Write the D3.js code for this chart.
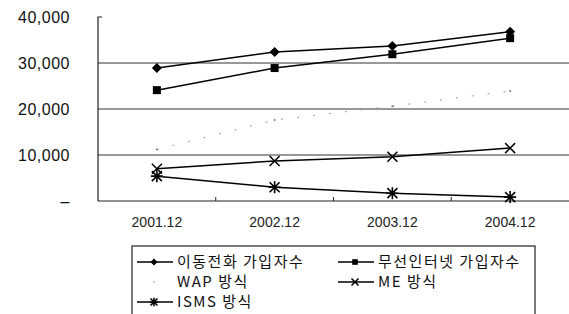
<!DOCTYPE html>
<meta charset="utf-8">
<script src="https://d3js.org/d3.v7.min.js"></script>
<style>
  body { margin: 0; background: #fff; }
  text { font-family: "Liberation Sans", Arial, sans-serif; fill: #111; }
  .kr { font-family: "Noto Sans CJK KR", "Liberation Sans", sans-serif; }
</style>
<div id="chart"></div>
<script>

// data
var categories = ["2001.12", "2002.12", "2003.12", "2004.12"];
var yTicks = [0, 10000, 20000, 30000, 40000];
var mobileSubs = [28900, 32400, 33700, 36800];   // 이동전화 가입자수
var wirelessSubs = [24100, 28900, 31900, 35400]; // 무선인터넷 가입자수
var wapValues = [11200, 17600, 20600, 23900];    // WAP 방식
var meValues = [7000, 8700, 9600, 11500];        // ME 방식
var ismsValues = [5400, 3000, 1700, 850];        // ISMS 방식

var series = [
  {name: "이동전화 가입자수", values: mobileSubs, marker: "diamond"},
  {name: "무선인터넷 가입자수", values: wirelessSubs, marker: "square"},
  {name: "WAP 방식", values: wapValues, marker: "dot"},
  {name: "ME 방식", values: meValues, marker: "cross"},
  {name: "ISMS 방식", values: ismsValues, marker: "star"}
];

var W = 569, H = 314;
var margin = {top: 17, right: 0, bottom: 113, left: 98};
var width = W - margin.left - margin.right,
    height = H - margin.top - margin.bottom;

var svg = d3.select("#chart").append("svg")
  .attr("width", W).attr("height", H);

var g = svg.append("g")
  .attr("transform", "translate(" + margin.left + "," + margin.top + ")");

var x = d3.scaleBand().domain(categories).range([0, width]);
var y = d3.scaleLinear().domain([0, 40000]).range([height, 0]);

// gridlines
g.selectAll(".grid")
  .data(yTicks.filter(function(d) { return d > 0 && d < 40000; }))
  .enter().append("line")
  .attr("x1", 0).attr("x2", width)
  .attr("y1", function(d) { return y(d); })
  .attr("y2", function(d) { return y(d); })
  .style("stroke", "#333").style("stroke-width", 1.2);

// y axis
var yAxis = g.append("g")
  .call(d3.axisLeft(y).tickValues(yTicks).tickSize(0).tickPadding(28)
    .tickFormat(function(d) { return d === 0 ? "\u2013" : d3.format(",")(d); }));
yAxis.select(".domain").style("stroke", "#222").style("stroke-width", 1.2)
  .attr("d", "M4," + y(40000) + "H0V" + y(0));
yAxis.selectAll("text").style("font-size", "16px").style("fill", "#111")
  .style("letter-spacing", "0.5px");

// x axis
var xAxis = g.append("g")
  .attr("transform", "translate(0," + height + ")")
  .call(d3.axisBottom(x).tickSize(0).tickPadding(16));
xAxis.select(".domain").style("stroke", "#222").style("stroke-width", 1.2)
  .attr("d", "M0,0H" + width);
xAxis.selectAll("text").style("font-size", "14px").style("fill", "#222");
g.selectAll(".xtick")
  .data(categories.slice(1))
  .enter().append("line")
  .attr("x1", function(d) { return x(d); })
  .attr("x2", function(d) { return x(d); })
  .attr("y1", height).attr("y2", height - 4)
  .style("stroke", "#222");

function cx(i) { return x(categories[i]) + x.bandwidth() / 2; }

function drawMarker(sel, type, k) {
  k = k || 1;
  if (type === "diamond") {
    sel.append("path").attr("d", "M0,-5L5,0L0,5L-5,0Z").style("fill", "#000");
  } else if (type === "square") {
    sel.append("rect").attr("x", -4).attr("y", -4).attr("width", 8).attr("height", 8)
      .style("fill", "#000");
  } else if (type === "dot") {
    sel.append("circle").attr("r", 1).style("fill", "#777");
  } else if (type === "cross") {
    sel.append("path").attr("d", "M-5,-5L5,5M-5,5L5,-5")
      .style("stroke", "#000").style("stroke-width", 1.5 / k);
  } else if (type === "star") {
    sel.append("path").attr("d", "M-5,-5L5,5M-5,5L5,-5M0,-6V6M-6,0H6")
      .style("stroke", "#000").style("stroke-width", 1.6 / k);
  }
  sel.attr("transform", sel.attr("transform") + " scale(" + k + ")");
}

var line = d3.line()
  .x(function(d, i) { return cx(i); })
  .y(function(d) { return y(d); });

series.forEach(function(s) {
  var faint = s.marker === "dot";
  g.append("path")
    .attr("d", line(s.values))
    .style("fill", "none")
    .style("stroke", faint ? "#999" : "#000")
    .style("stroke-width", faint ? 1 : 1.5)
    .style("stroke-dasharray", faint ? "2,14" : null);
  s.values.forEach(function(v, i) {
    var m = g.append("g").attr("transform", "translate(" + cx(i) + "," + y(v) + ")");
    drawMarker(m, s.marker);
  });
});

// legend
var lg = svg.append("g").attr("transform", "translate(132,246)");
lg.append("rect").attr("x", 0).attr("y", 0).attr("width", 403).attr("height", 72)
  .style("fill", "none").style("stroke", "#222").style("stroke-width", 1.2);

var legendPos = [[5, 16], [206, 16], [5, 36], [206, 36], [5, 56]];
series.forEach(function(s, i) {
  var item = lg.append("g")
    .attr("transform", "translate(" + legendPos[i][0] + "," + legendPos[i][1] + ")");
  if (s.marker !== "dot") {
    item.append("line").attr("x1", 0).attr("x2", 36).attr("y1", 0).attr("y2", 0)
      .style("stroke", "#000").style("stroke-width", 1.3);
  }
  var m = item.append("g").attr("transform", "translate(17,0)");
  drawMarker(m, s.marker, 0.7);
  item.append("text").attr("class", "kr")
    .attr("x", 40)
    .attr("y", 0).attr("dy", "0.36em")
    .style("font-size", "15px").style("letter-spacing", "1.5px")
    .text(s.name);
});

</script>
